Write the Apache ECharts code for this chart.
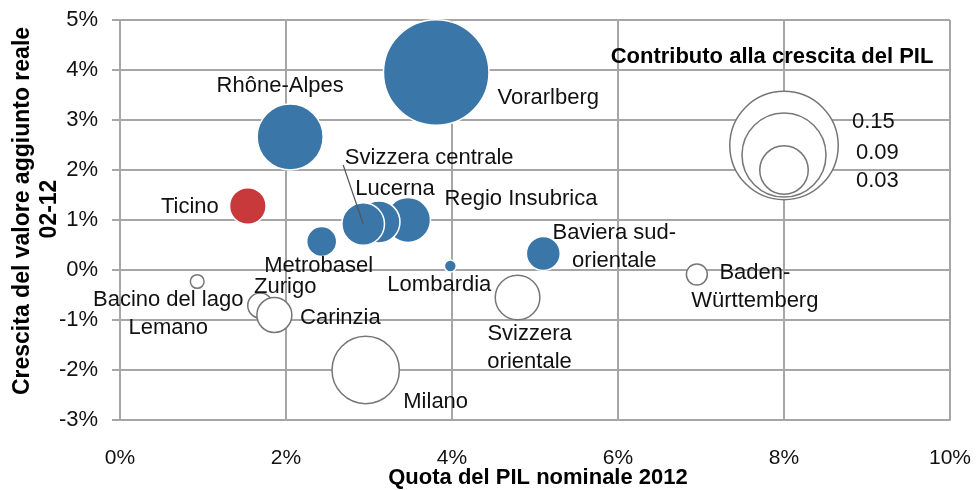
<!DOCTYPE html>
<html><head><meta charset="utf-8">
<script src="https://cdn.jsdelivr.net/npm/echarts@6/dist/echarts.min.js"></script>
<style>html,body{margin:0;padding:0;background:#fff}#chart{width:978px;height:490px}</style>
</head><body><div id="chart"></div>
<script>
// ---- data ----
const regions = ['Vorarlberg','Rhône-Alpes','Regio Insubrica','Lucerna','Svizzera centrale','Ticino','Metrobasel','Lombardia','Baviera sud-\norientale','Baden-\nWürttemberg','Svizzera\norientale','Bacino del lago\nLemano','Zurigo','Carinzia','Milano'];
const gdpShare = [3.81, 2.05, 3.47, 3.12, 2.93, 1.54, 2.43, 3.98, 5.10, 6.95, 4.79, 0.93, 1.69, 1.86, 2.96];
const vaGrowth = [3.95, 2.66, 1.00, 0.96, 0.92, 1.28, 0.57, 0.08, 0.33, -0.09, -0.55, -0.23, -0.71, -0.90, -2.00];
const contribution = [0.142, 0.0556, 0.0258, 0.0225, 0.0231, 0.0171, 0.0115, 0.0018, 0.0147, 0.0056, 0.0254, 0.0024, 0.0080, 0.0156, 0.0579];
const highlighted = 'Ticino';
const xTicks = [0, 2, 4, 6, 8, 10];
const yTicks = [-3, -2, -1, 0, 1, 2, 3, 4, 5];
const legendTitle = 'Contributo alla crescita del PIL';
const legendValues = [0.15, 0.09, 0.03];
const legendLabels = ['0.15', '0.09', '0.03'];
const xTitle = 'Quota del PIL nominale 2012';
const yTitle = ['Crescita del valore aggiunto reale', '02-12'];

// ---- layout / style (not data) ----
const legendAnchorX = 8;
const legendAnchorY = [2.49, 2.30, 2.0];
const labelOffsets = {
  'Vorarlberg': [112, 25], 'Rhône-Alpes': [-10, -51], 'Regio Insubrica': [113, -21],
  'Lucerna': [16, -33], 'Svizzera centrale': [66, -66], 'Ticino': [-58, 1],
  'Metrobasel': [-3, 24], 'Lombardia': [-11, 19], 'Baviera sud-\norientale': [71, -7],
  'Baden-\nWürttemberg': [58, 12], 'Svizzera\norientale': [12, 50],
  'Bacino del lago\nLemano': [-29, 32], 'Zurigo': [25, -19], 'Carinzia': [66, 3], 'Milano': [70, 32]
};
const legendLabelOffsets = [[68, -24], [72, -2], [72, 11]];
const FONT = '"Liberation Sans", Arial, sans-serif';
const BLUE = '#3a76a8', RED = '#c8393b', OUT = '#767676', GRID = '#a6a6a6';
const BUBBLE = 280; // diameter px per sqrt(value)
const sizeFn = v => BUBBLE * Math.sqrt(v[2]);

function item(i) {
  return {
    value: [gdpShare[i], vaGrowth[i], contribution[i]],
    name: regions[i],
    label: { offset: labelOffsets[regions[i]] }
  };
}
const idx = regions.map((_, i) => i);
const posData = idx.filter(i => vaGrowth[i] >= 0 && regions[i] !== highlighted).map(item);
const hiData = idx.filter(i => regions[i] === highlighted).map(item);
const negData = idx.filter(i => vaGrowth[i] < 0 && regions[i] !== highlighted).map(item);
const legData = legendValues.map((v, i) => ({
  value: [legendAnchorX, legendAnchorY[i], v], name: legendLabels[i],
  label: { offset: legendLabelOffsets[i] }
}));

const labelBase = {
  show: true, position: 'inside', formatter: p => p.name,
  color: '#111', fontFamily: FONT, fontSize: 22, lineHeight: 28, align: 'center'
};

const chart = echarts.init(document.getElementById('chart'), null, { renderer: 'canvas' });

function graphics(extra) {
  const g = [
    { type: 'text', id: 'yt1', x: 23, y: 211, rotation: Math.PI / 2, style: { text: yTitle[0], font: 'bold 23px ' + FONT, textAlign: 'center', textVerticalAlign: 'middle', fill: '#000' } },
    { type: 'text', id: 'yt2', x: 50, y: 209, rotation: Math.PI / 2, style: { text: yTitle[1], font: 'bold 23px ' + FONT, textAlign: 'center', textVerticalAlign: 'middle', fill: '#000' } },
    { type: 'text', id: 'xt', x: 538, y: 478, style: { text: xTitle, font: 'bold 22px ' + FONT, textAlign: 'center', textVerticalAlign: 'middle', fill: '#000' } },
    { type: 'text', id: 'lt', x: 772, y: 57, z: 10, style: { text: legendTitle, font: 'bold 22px ' + FONT, textAlign: 'center', textVerticalAlign: 'middle', fill: '#000' } }
  ];
  return g.concat(extra || []);
}

const option = {
  animation: false,
  backgroundColor: '#fff',
  grid: { left: 120, right: 28, top: 20, bottom: 70, containLabel: false },
  xAxis: {
    type: 'value', min: xTicks[0], max: xTicks[xTicks.length - 1], interval: xTicks[1] - xTicks[0],
    axisLine: { show: true, onZero: false, lineStyle: { color: GRID, width: 2 } },
    axisTick: { show: false },
    splitLine: { show: true, lineStyle: { color: GRID, width: 2 } },
    axisLabel: { formatter: v => v + '%', fontFamily: FONT, fontSize: 21, color: '#111', margin: 28 }
  },
  yAxis: {
    type: 'value', min: yTicks[0], max: yTicks[yTicks.length - 1], interval: yTicks[1] - yTicks[0],
    axisLine: { show: true, onZero: false, lineStyle: { color: GRID, width: 2 } },
    axisTick: { show: true, inside: false, length: 8, lineStyle: { color: GRID, width: 2 } },
    splitLine: { show: true, lineStyle: { color: GRID, width: 2 } },
    axisLabel: { formatter: v => v + '%', fontFamily: FONT, fontSize: 22, color: '#111', margin: 22 }
  },
  series: [
    { type: 'scatter', name: 'pos', data: posData, symbolSize: sizeFn,
      itemStyle: { color: BLUE, borderColor: '#fff', borderWidth: 1.5, opacity: 1 },
      label: labelBase, emphasis: { disabled: true } },
    { type: 'scatter', name: 'hi', data: hiData, symbolSize: sizeFn,
      itemStyle: { color: RED, borderColor: '#fff', borderWidth: 1.5, opacity: 1 },
      label: labelBase, emphasis: { disabled: true } },
    { type: 'scatter', name: 'neg', data: negData, symbolSize: sizeFn,
      itemStyle: { color: '#fff', borderColor: OUT, borderWidth: 1.5, opacity: 1 },
      label: labelBase, emphasis: { disabled: true } },
    { type: 'scatter', name: 'legend', data: legData, symbolSize: sizeFn,
      itemStyle: { color: '#fff', borderColor: OUT, borderWidth: 1.5, opacity: 1 },
      label: Object.assign({}, labelBase, { align: 'left' }), emphasis: { disabled: true } }
  ],
  graphic: graphics()
};
chart.setOption(option);

// leader line from the "Svizzera centrale" label to its bubble
const sc = regions.indexOf('Svizzera centrale');
const p = chart.convertToPixel({ seriesIndex: 0 }, [gdpShare[sc], vaGrowth[sc]]);
chart.setOption({ graphic: graphics([{ type: 'line', id: 'leader', z: 100,
  shape: { x1: p[0] - 20, y1: p[1] - 59, x2: p[0], y2: p[1] },
  style: { stroke: '#555', lineWidth: 1.2 } }]) });
</script></body></html>
